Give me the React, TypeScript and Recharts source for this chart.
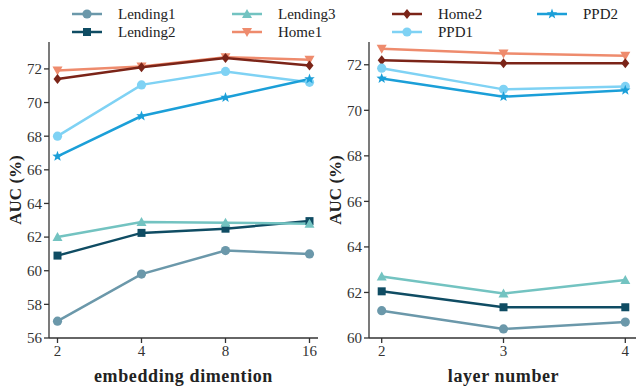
import React from 'react';
import { LineChart, Line, XAxis, YAxis, Label } from 'recharts';

const dims = ['2', '4', '8', '16'];
const layers = ['2', '3', '4'];

// AUC (%) vs embedding dimension
const dimLending1 = [57.0, 59.8, 61.2, 61.0];
const dimLending2 = [60.9, 62.25, 62.5, 62.95];
const dimLending3 = [62.0, 62.9, 62.85, 62.8];
const dimHome1 = [71.9, 72.15, 72.7, 72.55];
const dimHome2 = [71.4, 72.1, 72.65, 72.2];
const dimPPD1 = [68.0, 71.05, 71.85, 71.2];
const dimPPD2 = [66.8, 69.2, 70.3, 71.4];

// AUC (%) vs layer number
const layLending1 = [61.2, 60.4, 60.7];
const layLending2 = [62.05, 61.35, 61.35];
const layLending3 = [62.7, 61.95, 62.55];
const layHome1 = [72.7, 72.5, 72.4];
const layHome2 = [72.2, 72.07, 72.07];
const layPPD1 = [71.85, 70.92, 71.05];
const layPPD2 = [71.4, 70.6, 70.88];

const leftTicks = [56, 58, 60, 62, 64, 66, 68, 70, 72];
const rightTicks = [60, 62, 64, 66, 68, 70, 72];

type Shape = 'circle' | 'square' | 'triUp' | 'triDown' | 'diamond' | 'star';

const series: { name: string; color: string; shape: Shape }[] = [
  { name: 'Lending1', color: '#6b98aa', shape: 'circle' },
  { name: 'Lending2', color: '#0f4c63', shape: 'square' },
  { name: 'Lending3', color: '#73c3c1', shape: 'triUp' },
  { name: 'Home1', color: '#ee8b6d', shape: 'triDown' },
  { name: 'Home2', color: '#7b2418', shape: 'diamond' },
  { name: 'PPD1', color: '#7fd2f4', shape: 'circle' },
  { name: 'PPD2', color: '#1b9fd8', shape: 'star' },
];

const dimData = dims.map((x, i) => ({
  x,
  Lending1: dimLending1[i],
  Lending2: dimLending2[i],
  Lending3: dimLending3[i],
  Home1: dimHome1[i],
  Home2: dimHome2[i],
  PPD1: dimPPD1[i],
  PPD2: dimPPD2[i],
}));

const layerData = layers.map((x, i) => ({
  x,
  Lending1: layLending1[i],
  Lending2: layLending2[i],
  Lending3: layLending3[i],
  Home1: layHome1[i],
  Home2: layHome2[i],
  PPD1: layPPD1[i],
  PPD2: layPPD2[i],
}));

const FONT = '"Liberation Serif", "DejaVu Serif", serif';
const AXIS = '#333333';

function Marker({ cx, cy, shape, color }: { cx: number; cy: number; shape: Shape; color: string }) {
  switch (shape) {
    case 'circle':
      return <circle cx={cx} cy={cy} r={4.6} fill={color} />;
    case 'square':
      return <rect x={cx - 4} y={cy - 4} width={8} height={8} fill={color} />;
    case 'triUp':
      return <polygon points={`${cx},${cy - 5} ${cx + 5},${cy + 4} ${cx - 5},${cy + 4}`} fill={color} />;
    case 'triDown':
      return <polygon points={`${cx},${cy + 5} ${cx + 5},${cy - 4} ${cx - 5},${cy - 4}`} fill={color} />;
    case 'diamond':
      return <polygon points={`${cx},${cy - 5} ${cx + 4},${cy} ${cx},${cy + 5} ${cx - 4},${cy}`} fill={color} />;
    case 'star': {
      const pts: string[] = [];
      for (let k = 0; k < 10; k++) {
        const r = k % 2 === 0 ? 5.5 : 2.3;
        const a = -Math.PI / 2 + (k * Math.PI) / 5;
        pts.push(`${cx + r * Math.cos(a)},${cy + r * Math.sin(a)}`);
      }
      return <polygon points={pts.join(' ')} fill={color} />;
    }
  }
  return null;
}

const yLabel = (props: any) => {
  const vb = props.viewBox || {};
  const cy = vb.y + vb.height / 2;
  const cx = 15;
  return (
    <text
      x={cx}
      y={cy}
      transform={`rotate(-90, ${cx}, ${cy})`}
      textAnchor="middle"
      dominantBaseline="central"
      fontFamily={FONT}
      fontWeight="bold"
      fontSize={17}
      fill="#222"
    >
      AUC (%)
    </text>
  );
};

function Panel({
  data,
  domain,
  ticks,
  xLabel,
  padding,
  width,
}: {
  data: any[];
  domain: [number, number];
  ticks: number[];
  xLabel: string;
  padding: number;
  width: number;
}) {
  const tickStyle = { fontFamily: FONT, fontSize: 15, fill: AXIS };
  return (
    <LineChart width={width} height={386} data={data} margin={{ top: 42, right: 12, bottom: 0, left: 0 }}>
      <XAxis
        dataKey="x"
        type="category"
        padding={{ left: padding, right: padding }}
        tick={tickStyle}
        tickSize={5}
        stroke={AXIS}
        strokeWidth={1.3}
        height={48}
        interval={0}
      >
        <Label
          value={xLabel}
          position="insideBottom"
          offset={4}
          style={{ fontFamily: FONT, fontWeight: 'bold', fontSize: 18, letterSpacing: 0.6, fill: '#222' }}
        />
      </XAxis>
      <XAxis xAxisId="top" dataKey="x" orientation="top" height={0} tick={false} tickLine={false} stroke={AXIS} strokeWidth={1.3} />
      <YAxis
        domain={domain}
        ticks={ticks}
        type="number"
        allowDataOverflow
        tick={tickStyle}
        tickSize={5}
        stroke={AXIS}
        strokeWidth={1.3}
        width={49}
        label={yLabel}
      />
      <YAxis yAxisId="right" orientation="right" width={0} tick={false} tickLine={false} stroke={AXIS} strokeWidth={1.3} />
      {series.map((s) => (
        <Line
          key={s.name}
          dataKey={s.name}
          stroke={s.color}
          strokeWidth={2.5}
          isAnimationActive={false}
          dot={(p: any) => <Marker key={`${s.name}-${p.index}`} cx={p.cx} cy={p.cy} shape={s.shape} color={s.color} />}
        />
      ))}
    </LineChart>
  );
}

const legendCols = [
  { left: 72, names: ['Lending1', 'Lending2'] },
  { left: 232, names: ['Lending3', 'Home1'] },
  { left: 392, names: ['Home2', 'PPD1'] },
  { left: 537, names: ['PPD2'] },
];

function Legend() {
  return (
    <>
      {legendCols.map((col) =>
        col.names.map((name, r) => {
          const s = series.find((q) => q.name === name)!;
          const top = 5 + r * 18;
          return (
            <div key={name} style={{ position: 'absolute', left: col.left, top, height: 18, display: 'flex', alignItems: 'center' }}>
              <svg width={30} height={18} style={{ display: 'block' }}>
                <line x1={0} y1={9} x2={30} y2={9} stroke={s.color} strokeWidth={2.5} />
                <Marker cx={15} cy={9} shape={s.shape} color={s.color} />
              </svg>
              <span style={{ marginLeft: 16, fontFamily: FONT, fontSize: 15, color: '#222', lineHeight: '18px' }}>{name}</span>
            </div>
          );
        })
      )}
    </>
  );
}

export default function App() {
  return (
    <div style={{ position: 'absolute', left: 0, top: 0, width: 636, height: 386, overflow: 'hidden', background: '#fff' }}>
      <div style={{ position: 'absolute', left: 0, top: 0 }}>
        <Panel data={dimData} domain={[56, 73.6]} ticks={leftTicks} xLabel="embedding dimention" padding={8.5} width={330} />
      </div>
      <div style={{ position: 'absolute', left: 320, top: 0 }}>
        <Panel data={layerData} domain={[60, 73]} ticks={rightTicks} xLabel="layer number" padding={12.7} width={330} />
      </div>
      <Legend />
    </div>
  );
}
